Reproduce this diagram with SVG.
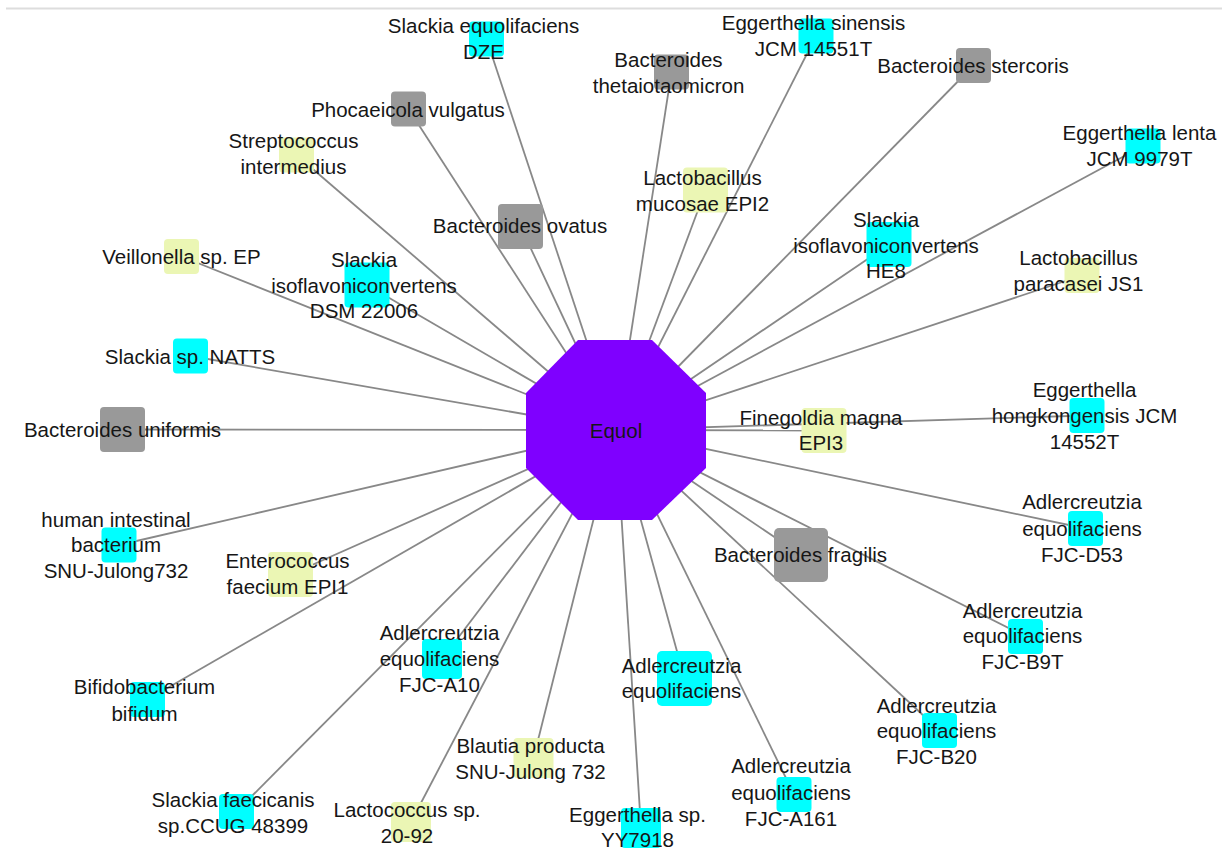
<svg xmlns="http://www.w3.org/2000/svg" width="1222" height="852" viewBox="0 0 1222 852">
  <style>
    .edge { stroke: #888888; stroke-width: 1.8; fill: none; }
    .box { stroke: none; }
    .cyan { fill: #00ffff; }
    .yel { fill: #ebf6b4; }
    .gray { fill: #999999; }
    .hub { fill: #7f00ff; }
    text { font-family: "Liberation Sans", Arial, sans-serif; font-size: 20.5px; fill: #161616; text-anchor: middle; }
  </style>
  <rect width="1222" height="852" fill="#ffffff"/>
  <line x1="6" y1="8.5" x2="1222" y2="8.5" stroke="#dddddd" stroke-width="2"/>

  <!-- spokes from the hub to each organism -->
  <g id="connectors">
    <line class="edge" x1="616" y1="430" x2="486.5" y2="39"/>
    <line class="edge" x1="616" y1="430" x2="816" y2="36"/>
    <line class="edge" x1="616" y1="430" x2="671.5" y2="72"/>
    <line class="edge" x1="616" y1="430" x2="973.5" y2="65.5"/>
    <line class="edge" x1="616" y1="430" x2="408.5" y2="109"/>
    <line class="edge" x1="616" y1="430" x2="296.5" y2="155"/>
    <line class="edge" x1="616" y1="430" x2="1143" y2="146"/>
    <line class="edge" x1="616" y1="430" x2="705.5" y2="190"/>
    <line class="edge" x1="616" y1="430" x2="520.5" y2="226.5"/>
    <line class="edge" x1="616" y1="430" x2="889" y2="244.5"/>
    <line class="edge" x1="616" y1="430" x2="181.5" y2="256.5"/>
    <line class="edge" x1="616" y1="430" x2="367" y2="285"/>
    <line class="edge" x1="616" y1="430" x2="1082" y2="275.5"/>
    <line class="edge" x1="616" y1="430" x2="190.5" y2="356"/>
    <line class="edge" x1="616" y1="430" x2="122.5" y2="429.5"/>
    <line class="edge" x1="616" y1="430" x2="824" y2="430.5"/>
    <line class="edge" x1="616" y1="430" x2="1087" y2="415.5"/>
    <line class="edge" x1="616" y1="430" x2="1085.5" y2="528.5"/>
    <line class="edge" x1="616" y1="430" x2="119" y2="545"/>
    <line class="edge" x1="616" y1="430" x2="801" y2="555"/>
    <line class="edge" x1="616" y1="430" x2="290.5" y2="574.5"/>
    <line class="edge" x1="616" y1="430" x2="1025.5" y2="636.5"/>
    <line class="edge" x1="616" y1="430" x2="442" y2="659"/>
    <line class="edge" x1="616" y1="430" x2="684.5" y2="678.5"/>
    <line class="edge" x1="616" y1="430" x2="147.5" y2="699.5"/>
    <line class="edge" x1="616" y1="430" x2="939.5" y2="730.5"/>
    <line class="edge" x1="616" y1="430" x2="533.5" y2="758"/>
    <line class="edge" x1="616" y1="430" x2="794" y2="794.5"/>
    <line class="edge" x1="616" y1="430" x2="236.5" y2="811.5"/>
    <line class="edge" x1="616" y1="430" x2="411" y2="822"/>
    <line class="edge" x1="616" y1="430" x2="641" y2="828"/>
  </g>

  <g id="equol">
    <polygon class="hub" points="578,340 652,340 706,393 706,468 652,520 578,520 526,468 526,393"/>
    <text x="616" y="438">Equol</text>
  </g>

  <g id="slackia-equolifaciens-dze">
    <rect class="box cyan" x="469" y="21.5" width="35" height="35" rx="4"/>
    <text x="483.5"><tspan x="483.5" y="33">Slackia equolifaciens</tspan><tspan x="483.5" y="59">DZE</tspan></text>
  </g>
  <g id="eggerthella-sinensis">
    <rect class="box cyan" x="798.5" y="18.5" width="35" height="35" rx="4"/>
    <text><tspan x="813.5" y="30">Eggerthella sinensis</tspan><tspan x="813.5" y="56">JCM 14551T</tspan></text>
  </g>
  <g id="bacteroides-thetaiotaomicron">
    <rect class="box gray" x="654" y="54.5" width="35" height="35" rx="4"/>
    <text><tspan x="668.5" y="67">Bacteroides</tspan><tspan x="668.5" y="93">thetaiotaomicron</tspan></text>
  </g>
  <g id="bacteroides-stercoris">
    <rect class="box gray" x="956" y="48" width="35" height="35" rx="4"/>
    <text x="973" y="73">Bacteroides stercoris</text>
  </g>
  <g id="phocaeicola-vulgatus">
    <rect class="box gray" x="391" y="91.5" width="35" height="35" rx="4"/>
    <text x="408" y="117">Phocaeicola vulgatus</text>
  </g>
  <g id="streptococcus-intermedius">
    <rect class="box yel" x="279" y="137.5" width="35" height="35" rx="4"/>
    <text><tspan x="293.5" y="148">Streptococcus</tspan><tspan x="293.5" y="174">intermedius</tspan></text>
  </g>
  <g id="eggerthella-lenta">
    <rect class="box cyan" x="1125.5" y="128.5" width="35" height="35" rx="4"/>
    <text><tspan x="1139.5" y="140">Eggerthella lenta</tspan><tspan x="1139.5" y="166">JCM 9979T</tspan></text>
  </g>
  <g id="lactobacillus-mucosae">
    <rect class="box yel" x="683" y="167.5" width="45" height="45" rx="4"/>
    <text><tspan x="702.5" y="185">Lactobacillus</tspan><tspan x="702.5" y="211">mucosae EPI2</tspan></text>
  </g>
  <g id="bacteroides-ovatus">
    <rect class="box gray" x="498" y="204" width="45" height="45" rx="4"/>
    <text x="520" y="233">Bacteroides ovatus</text>
  </g>
  <g id="slackia-isoflavoniconvertens-he8">
    <rect class="box cyan" x="866.5" y="222" width="45" height="45" rx="4"/>
    <text><tspan x="886" y="227">Slackia</tspan><tspan x="886" y="252.5">isoflavoniconvertens</tspan><tspan x="886" y="278">HE8</tspan></text>
  </g>
  <g id="veillonella">
    <rect class="box yel" x="164" y="239" width="35" height="35" rx="4"/>
    <text x="181.5" y="264">Veillonella sp. EP</text>
  </g>
  <g id="slackia-isoflavoniconvertens-dsm">
    <rect class="box cyan" x="344.5" y="262.5" width="45" height="45" rx="4"/>
    <text><tspan x="364" y="267">Slackia</tspan><tspan x="364" y="293">isoflavoniconvertens</tspan><tspan x="364" y="318">DSM 22006</tspan></text>
  </g>
  <g id="lactobacillus-paracasei">
    <rect class="box yel" x="1064.5" y="258" width="35" height="35" rx="4"/>
    <text><tspan x="1078.5" y="265">Lactobacillus</tspan><tspan x="1078.5" y="291">paracasei JS1</tspan></text>
  </g>
  <g id="slackia-natts">
    <rect class="box cyan" x="173" y="338.5" width="35" height="35" rx="4"/>
    <text x="190" y="364">Slackia sp. NATTS</text>
  </g>
  <g id="bacteroides-uniformis">
    <rect class="box gray" x="100" y="407" width="45" height="45" rx="4"/>
    <text x="122.5" y="437">Bacteroides uniformis</text>
  </g>
  <g id="finegoldia-magna">
    <rect class="box yel" x="801.5" y="408" width="45" height="45" rx="4"/>
    <text><tspan x="821" y="425">Finegoldia magna</tspan><tspan x="821" y="450">EPI3</tspan></text>
  </g>
  <g id="eggerthella-hongkongensis">
    <rect class="box cyan" x="1069.5" y="398" width="35" height="35" rx="4"/>
    <text><tspan x="1084.5" y="397">Eggerthella</tspan><tspan x="1084.5" y="423">hongkongensis JCM</tspan><tspan x="1084.5" y="449">14552T</tspan></text>
  </g>
  <g id="adlercreutzia-fjc-d53">
    <rect class="box cyan" x="1068" y="511" width="35" height="35" rx="4"/>
    <text><tspan x="1082" y="509">Adlercreutzia</tspan><tspan x="1082" y="536">equolifaciens</tspan><tspan x="1082" y="562">FJC-D53</tspan></text>
  </g>
  <g id="human-intestinal-bacterium">
    <rect class="box cyan" x="101.5" y="527.5" width="35" height="35" rx="4"/>
    <text><tspan x="116" y="527">human intestinal</tspan><tspan x="116" y="552">bacterium</tspan><tspan x="116" y="578">SNU-Julong732</tspan></text>
  </g>
  <g id="bacteroides-fragilis">
    <rect class="box gray" x="774" y="528" width="54" height="54" rx="5"/>
    <text x="800.5" y="562">Bacteroides fragilis</text>
  </g>
  <g id="enterococcus-faecium">
    <rect class="box yel" x="268" y="552" width="45" height="45" rx="4"/>
    <text><tspan x="287.5" y="568">Enterococcus</tspan><tspan x="287.5" y="594">faecium EPI1</tspan></text>
  </g>
  <g id="adlercreutzia-fjc-b9t">
    <rect class="box cyan" x="1008" y="619" width="35" height="35" rx="4"/>
    <text><tspan x="1022.5" y="618">Adlercreutzia</tspan><tspan x="1022.5" y="643">equolifaciens</tspan><tspan x="1022.5" y="669">FJC-B9T</tspan></text>
  </g>
  <g id="adlercreutzia-fjc-a10">
    <rect class="box cyan" x="422" y="639" width="40" height="40" rx="4"/>
    <text><tspan x="439.5" y="640">Adlercreutzia</tspan><tspan x="439.5" y="666">equolifaciens</tspan><tspan x="439.5" y="692">FJC-A10</tspan></text>
  </g>
  <g id="adlercreutzia-equolifaciens">
    <rect class="box cyan" x="657" y="651" width="55" height="55" rx="5"/>
    <text><tspan x="681.5" y="673">Adlercreutzia</tspan><tspan x="681.5" y="698">equolifaciens</tspan></text>
  </g>
  <g id="bifidobacterium-bifidum">
    <rect class="box cyan" x="130" y="682" width="35" height="35" rx="4"/>
    <text><tspan x="144.5" y="694">Bifidobacterium</tspan><tspan x="144.5" y="721">bifidum</tspan></text>
  </g>
  <g id="adlercreutzia-fjc-b20">
    <rect class="box cyan" x="922" y="713" width="35" height="35" rx="4"/>
    <text><tspan x="936.5" y="713">Adlercreutzia</tspan><tspan x="936.5" y="738">equolifaciens</tspan><tspan x="936.5" y="764">FJC-B20</tspan></text>
  </g>
  <g id="blautia-producta">
    <rect class="box yel" x="513.5" y="738" width="40" height="40" rx="4"/>
    <text><tspan x="530.5" y="753">Blautia producta</tspan><tspan x="530.5" y="779">SNU-Julong 732</tspan></text>
  </g>
  <g id="adlercreutzia-fjc-a161">
    <rect class="box cyan" x="776.5" y="777" width="35" height="35" rx="4"/>
    <text><tspan x="791" y="773">Adlercreutzia</tspan><tspan x="791" y="800">equolifaciens</tspan><tspan x="791" y="826">FJC-A161</tspan></text>
  </g>
  <g id="slackia-faecicanis">
    <rect class="box cyan" x="219" y="794" width="35" height="35" rx="4"/>
    <text><tspan x="233" y="807">Slackia faecicanis</tspan><tspan x="233" y="833">sp.CCUG 48399</tspan></text>
  </g>
  <g id="lactococcus">
    <rect class="box yel" x="391" y="802" width="40" height="40" rx="4"/>
    <text><tspan x="407" y="817">Lactococcus sp.</tspan><tspan x="407" y="843">20-92</tspan></text>
  </g>
  <g id="eggerthella-yy7918">
    <rect class="box cyan" x="621" y="808" width="40" height="40" rx="4"/>
    <text><tspan x="637.5" y="822">Eggerthella sp.</tspan><tspan x="637.5" y="847">YY7918</tspan></text>
  </g>
</svg>
